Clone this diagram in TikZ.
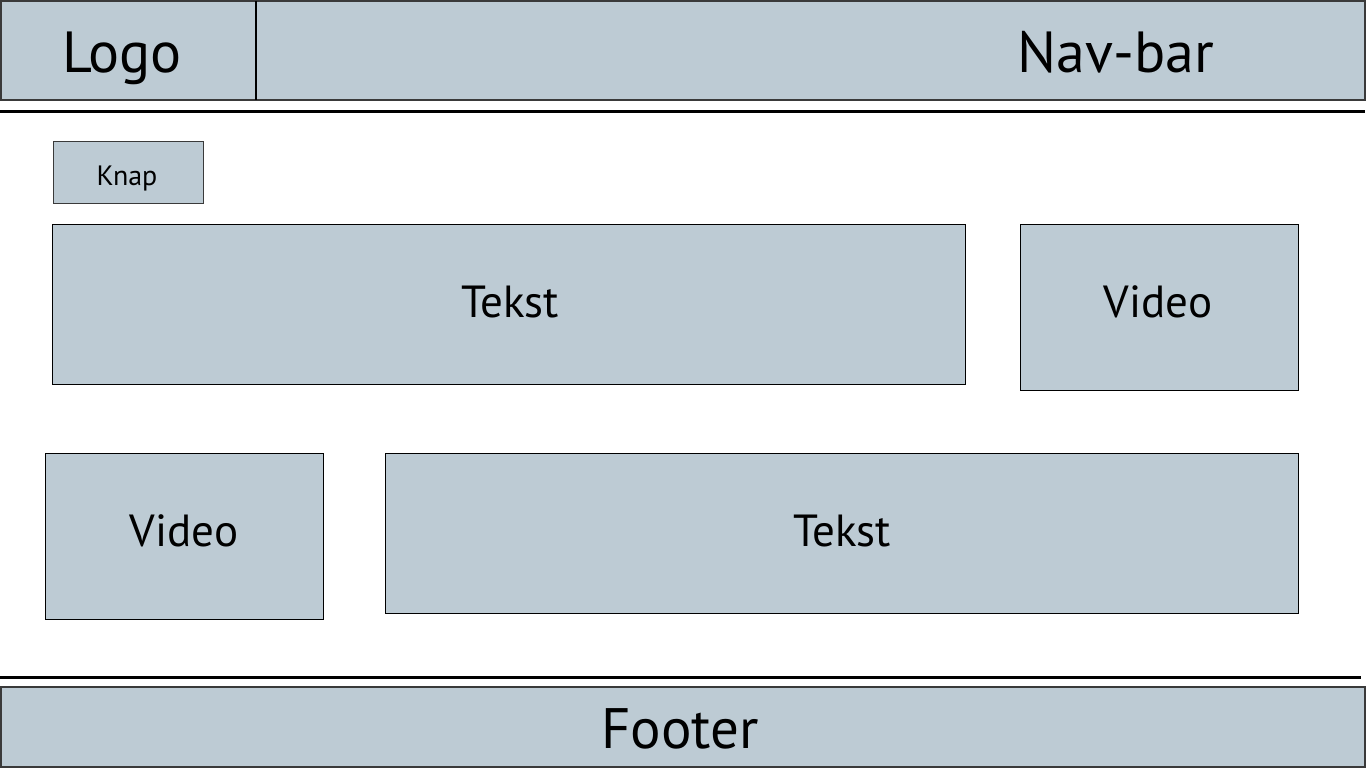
\documentclass[tikz,border=0pt]{standalone}
\usepackage{fontspec}
\setmainfont{PT Sans}
\definecolor{boxfill}{HTML}{BDCBD4}
\definecolor{frameline}{HTML}{3A3A3A}
\tikzset{
  panel/.style={draw=black, line width=1pt, fill=boxfill},
  band/.style={draw=frameline, line width=1.5pt, fill=boxfill},
  sep/.style={draw=black, line width=3pt},
  lbl/.style={inner sep=0pt, anchor=base, text=black},
}
\newcommand{\fs}[1]{\fontsize{#1}{#1}\selectfont}
\begin{document}
\begin{tikzpicture}[x=1pt,y=-1pt]
\useasboundingbox (0,0) rectangle (1366,768);
% header
\draw[band] (1,1) rectangle (256,100);
\draw[band] (256,1) rectangle (1365,100);
\draw[draw=black,line width=1.5pt] (256,1) -- (256,100);
\node[lbl] (logo) at (122,73) {\fs{58}Logo};
\node[lbl] (nav) at (1116,73) {\fs{58}Nav-bar};
\draw[sep] (0,111) -- (1365,111);
% knap
\draw[band, line width=1pt] (53,141) rectangle (203,203);
\node[lbl] (knap) at (127,185) {\fs{28}Knap};
% row 1
\draw[panel] (52,224) rectangle (965,384);
\node[lbl] (tekst1) at (510,317) {\fs{45}Tekst};
\draw[panel] (1020,224) rectangle (1298,390);
\node[lbl] (video1) at (1158,317) {\fs{45}Video};
% row 2
\draw[panel] (45,453) rectangle (323,619);
\node[lbl] (video2) at (184,546) {\fs{45}Video};
\draw[panel] (385,453) rectangle (1298,613);
\node[lbl] (tekst2) at (842,546) {\fs{45}Tekst};
% footer
\draw[sep] (0,677) -- (1361,677);
\draw[band] (1,687) rectangle (1365,767);
\node[lbl] (footer) at (680,748) {\fs{57}Footer};
\end{tikzpicture}
\end{document}
